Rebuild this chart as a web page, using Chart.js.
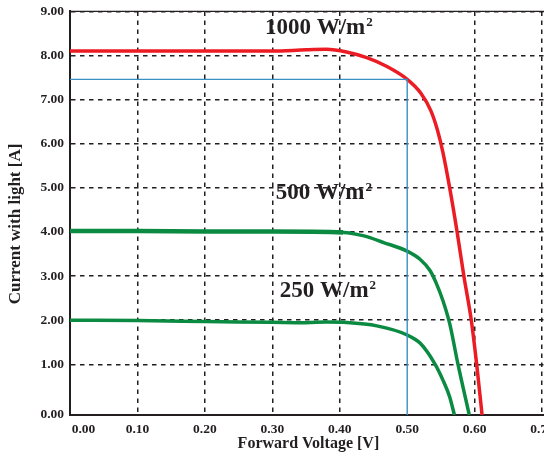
<!DOCTYPE html>
<html>
<head>
<meta charset="utf-8">
<script src="https://cdn.jsdelivr.net/npm/chart.js@4/dist/chart.umd.min.js"></script>
<style>
  html, body { margin: 0; padding: 0; background: #fff; overflow: hidden; }
  #wrap { width: 560px; height: 457px; }
</style>
</head>
<body>
<div id="wrap"><canvas id="c" width="560" height="457"></canvas></div>
<script>
// I-V curves (voltage in V, current in A)
var v1000 = [0, 0.1, 0.2, 0.3, 0.35, 0.38, 0.41, 0.44, 0.47, 0.5, 0.52, 0.535, 0.545, 0.553, 0.563, 0.574, 0.584, 0.595, 0.603, 0.611];
var i1000 = [8.1, 8.1, 8.1, 8.1, 8.13, 8.14, 8.08, 7.95, 7.75, 7.46, 7.15, 6.75, 6.3, 5.8, 5.0, 4.0, 3.0, 2.0, 1.0, -0.15];
var v500 = [0, 0.1, 0.2, 0.3, 0.405, 0.436, 0.465, 0.499, 0.519, 0.534, 0.543, 0.553, 0.563, 0.575, 0.592];
var i500 = [4.02, 4.02, 4.01, 4.01, 3.99, 3.91, 3.76, 3.57, 3.38, 3.12, 2.84, 2.44, 1.92, 1.02, -0.15];
var v250 = [0, 0.1, 0.2, 0.3, 0.35, 0.38, 0.405, 0.455, 0.499, 0.519, 0.541, 0.553, 0.563, 0.57];
var i250 = [2.0, 1.99, 1.97, 1.95, 1.94, 1.96, 1.95, 1.87, 1.67, 1.48, 1.01, 0.64, 0.26, -0.15];
// max power point guide lines
var mppV = [0, 0.5, 0.5];
var mppI = [7.46, 7.46, -0.15];

var xTicks = [0, 0.1, 0.2, 0.3, 0.4, 0.5, 0.6, 0.7];
var yTicks = [1, 2, 3, 4, 5, 6, 7, 8, 9];
var yMin = -0.15, yMax = 9, xMin = 0, xMax = 0.707;

var labels = ["1000 W/m", "500 W/m", "250 W/m"];
var labelV = [0.289, 0.305, 0.311];
var labelI = [8.49, 4.74, 2.52];

var serif = '"Liberation Serif", "Times New Roman", serif';
var ink = '#231f20';

function pts(xs, ys) {
  return xs.map(function (x, k) { return { x: x, y: ys[k] }; });
}

var extras = {
  id: 'extras',
  beforeDraw: function (chart) {
    var ctx = chart.ctx, sx = chart.scales.x, sy = chart.scales.y;
    ctx.save();
    ctx.fillStyle = ink;
    ctx.textBaseline = 'alphabetic';
    ctx.textAlign = 'left';
    for (var k = 0; k < labels.length; k++) {
      var px = sx.getPixelForValue(labelV[k]), py = sy.getPixelForValue(labelI[k]);
      ctx.font = 'bold 23px ' + serif;
      ctx.fillText(labels[k], px, py);
      var w = ctx.measureText(labels[k]).width;
      ctx.font = 'bold 13px ' + serif;
      ctx.fillText('2', px + w + 1, py - 8);
    }
    ctx.restore();
  },
  afterDraw: function (chart) {
    var ctx = chart.ctx, a = chart.chartArea;
    ctx.save();
    ctx.strokeStyle = ink;
    ctx.lineWidth = 1.4;
    ctx.beginPath();
    ctx.moveTo(a.left, a.top);
    ctx.lineTo(a.right, a.top);
    ctx.stroke();
    ctx.fillStyle = ink;
    ctx.font = 'bold 17px ' + serif;
    ctx.textAlign = 'center';
    ctx.textBaseline = 'middle';
    ctx.translate(16, 224);
    ctx.rotate(-Math.PI / 2);
    ctx.fillText('Current with light [A]', 0, 0);
    ctx.restore();
  }
};

new Chart(document.getElementById('c'), {
  type: 'scatter',
  data: {
    datasets: [
      { data: pts(mppV, mppI), showLine: true, borderColor: '#3a8fc4', borderWidth: 1.4, pointRadius: 0, tension: 0 },
      { data: pts(v250, i250), showLine: true, borderColor: '#0b8a41', borderWidth: 3.5, pointRadius: 0, cubicInterpolationMode: 'monotone' },
      {
        data: pts(v500, i500), showLine: true, borderColor: '#0b8a41', borderWidth: 3.5, pointRadius: 0, cubicInterpolationMode: 'monotone',
        segment: { borderWidth: function (c) { return c.p1.parsed.x <= 0.405 ? 4.6 : 3.5; } }
      },
      { data: pts(v1000, i1000), showLine: true, borderColor: '#ec1c24', borderWidth: 3.5, pointRadius: 0, cubicInterpolationMode: 'monotone' }
    ]
  },
  options: {
    responsive: false,
    animation: false,
    devicePixelRatio: 1,
    layout: { padding: { top: 9, right: 9, left: 0, bottom: 0 } },
    plugins: { legend: { display: false }, tooltip: { enabled: false } },
    scales: {
      x: {
        type: 'linear', min: xMin, max: xMax,
        afterBuildTicks: function (s) { s.ticks = xTicks.map(function (v) { return { value: v }; }); },
        afterFit: function (s) { s.height = 42; },
        grid: {
          drawTicks: false, lineWidth: 1.5,
          color: function (c) { return c.tick && c.tick.value === 0.5 ? 'rgba(0,0,0,0)' : ink; }
        },
        border: { display: true, color: ink, width: 2, dash: [4.5, 4.5] },
        ticks: {
          padding: 6, color: ink, maxRotation: 0, autoSkip: false,
          font: { family: serif, size: 13.5, weight: 'bold' },
          callback: function (v) { return v === 0 ? '\u2003\u20030.00' : Number(v).toFixed(2); }
        },
        title: {
          display: true, text: 'Forward Voltage [V]', color: ink, padding: { top: 1 },
          font: { family: serif, size: 16, weight: 'bold' }
        }
      },
      y: {
        type: 'linear', min: yMin, max: yMax,
        afterBuildTicks: function (s) {
          s.ticks = [{ value: yMin }].concat(yTicks.map(function (v) { return { value: v }; }));
        },
        afterFit: function (s) { s.width = 70; },
        grid: { drawTicks: false, lineWidth: 1.5, color: ink },
        border: { display: true, color: ink, width: 2, dash: [4.5, 4.5] },
        ticks: {
          padding: 6, color: ink,
          font: { family: serif, size: 13.5, weight: 'bold', lineHeight: 0.8 },
          callback: function (v) { return v === yMin ? '0.00' : Number(v).toFixed(2); }
        }
      }
    }
  },
  plugins: [extras]
});
</script>
</body>
</html>
